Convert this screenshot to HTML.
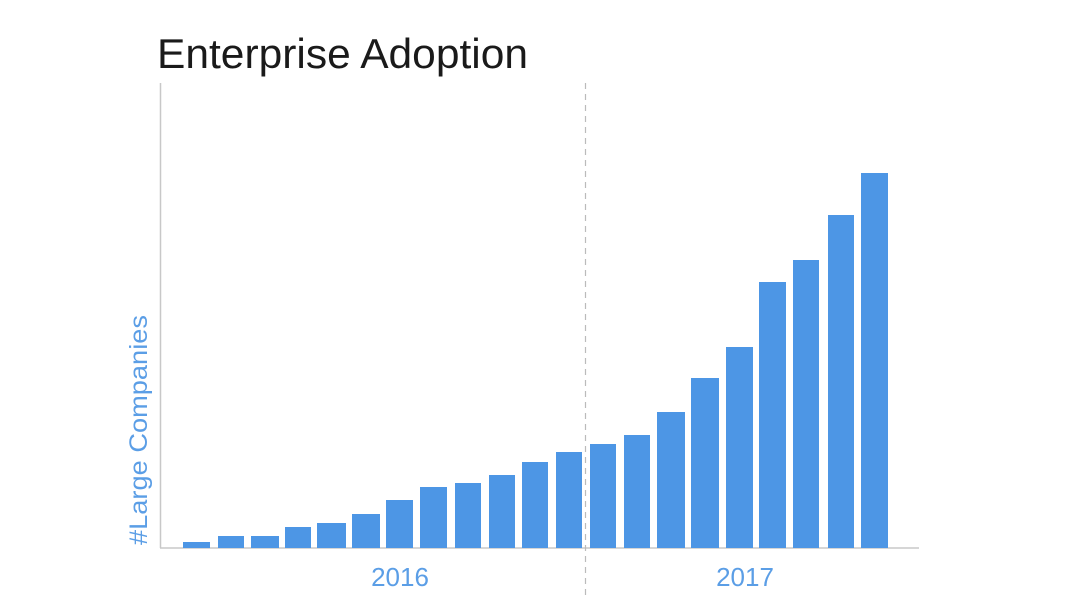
<!DOCTYPE html>
<html><head><meta charset="utf-8"><style>html,body{margin:0;padding:0;background:#fff}svg{display:block}</style></head>
<body>
<svg width="1080" height="607" viewBox="0 0 1080 607" xmlns="http://www.w3.org/2000/svg" font-family="Liberation Sans, sans-serif">
<rect width="1080" height="607" fill="#fff"/>
<text x="157" y="68" font-size="42" fill="#1a1a1a" textLength="371" lengthAdjust="spacingAndGlyphs">Enterprise Adoption</text>
<line x1="160.5" y1="83" x2="160.5" y2="548" stroke="#c8c8c8" stroke-width="1.5"/>
<line x1="160" y1="548" x2="919" y2="548" stroke="#c8c8c8" stroke-width="1.5"/>
<line x1="585.5" y1="83" x2="585.5" y2="596" stroke="#bbb" stroke-width="1.2" stroke-dasharray="6,5"/>
<g fill="#4d96e5">
<rect x="183" y="542" width="27" height="6"/>
<rect x="218" y="536" width="26" height="12"/>
<rect x="251" y="536" width="28" height="12"/>
<rect x="285" y="527" width="26" height="21"/>
<rect x="317" y="523" width="29" height="25"/>
<rect x="352" y="514" width="28" height="34"/>
<rect x="386" y="500" width="27" height="48"/>
<rect x="420" y="487" width="27" height="61"/>
<rect x="455" y="483" width="26" height="65"/>
<rect x="489" y="475" width="26" height="73"/>
<rect x="522" y="462" width="26" height="86"/>
<rect x="556" y="452" width="26" height="96"/>
<rect x="590" y="444" width="26" height="104"/>
<rect x="624" y="435" width="26" height="113"/>
<rect x="657" y="412" width="28" height="136"/>
<rect x="691" y="378" width="28" height="170"/>
<rect x="726" y="347" width="27" height="201"/>
<rect x="759" y="282" width="27" height="266"/>
<rect x="793" y="260" width="26" height="288"/>
<rect x="828" y="215" width="26" height="333"/>
<rect x="861" y="173" width="27" height="375"/>
</g>
<text x="400" y="586" font-size="26" fill="#5b9ee6" text-anchor="middle">2016</text>
<text x="745" y="586" font-size="26" fill="#5b9ee6" text-anchor="middle">2017</text>
<text transform="translate(147,545) rotate(-90)" font-size="25" fill="#5b9ee6" textLength="230" lengthAdjust="spacingAndGlyphs">#Large Companies</text>
</svg>
</body></html>
